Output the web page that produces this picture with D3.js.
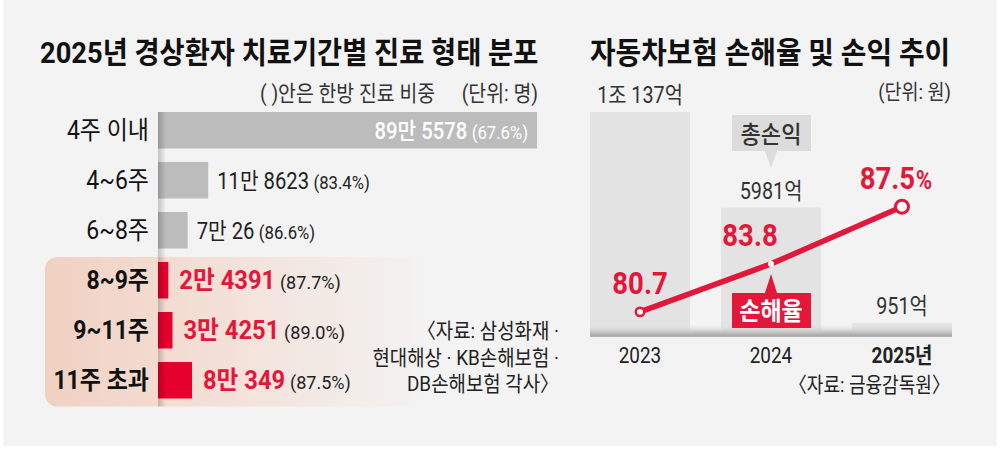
<!DOCTYPE html>
<html>
<head>
<meta charset="utf-8">
<script src="https://cdn.jsdelivr.net/npm/d3@7"></script>
<style>
  body { margin: 0; background: #fff; }
  svg { display: block; }
  text { font-family: Roboto, "Noto Sans CJK KR", sans-serif; }
</style>
</head>
<body>
<svg width="1000" height="450"></svg>
<script>
// left chart: patients by treatment period (명), ( ) = share of herbal treatment
const periods = ["4주 이내", "4~6주", "6~8주", "8~9주", "9~11주", "11주 초과"];
const patients = [895578, 118623, 70026, 24391, 34251, 80349];
const herbalShare = [67.6, 83.4, 86.6, 87.7, 89.0, 87.5];
const highlighted = ["8~9주", "9~11주", "11주 초과"];
const leftSource = ["〈자료: 삼성화재 ·", "현대해상 · KB손해보험 ·", "DB손해보험 각사〉"];

// right chart: car insurance loss ratio and total profit
const years = ["2023", "2024", "2025"];
const yearLabels = ["2023", "2024", "2025년"];
const totalProfit = [10137, 5981, 951];   // 억원
const lossRatio = [80.7, 83.8, 87.5];     // %

const RED = "#e3173a";
const svg = d3.select("svg");
const defs = svg.append("defs");

svg.append("rect").attr("x", 3).attr("y", 0).attr("width", 994).attr("height", 446).attr("fill", "#f3f3f3");

// text helper, condensed horizontally like the original typeface
function label(g, x, y, str, o = {}) {
  return g.append("text")
    .attr("transform", `translate(${x},${y}) scale(${o.sx ?? 0.9},1)`)
    .attr("text-anchor", o.anchor || "start")
    .attr("font-size", o.size || 20)
    .attr("font-weight", o.weight || 400)
    .attr("fill", o.fill || "#222")
    .text(str);
}
// squeeze a text to a given width
function fit(t, x, y, w) {
  const len = t.node().getComputedTextLength();
  t.attr("transform", `translate(${x},${y}) scale(${w / len},1)`);
}

const fmtMan = v => Math.floor(v / 10000) > 0 ? `${Math.floor(v / 10000)}만 ${v % 10000}` : `${v}`;
const fmtEok = v => v >= 10000 ? `${Math.floor(v / 10000)}조 ${v % 10000}억` : `${v}억`;

// ---------- left ----------
const L = svg.append("g");
fit(label(L, 0, 0, "2025년 경상환자 치료기간별 진료 형태 분포", { size: 30, weight: 700, fill: "#111" }), 40, 63, 498);
label(L, 435, 101, "(  )안은 한방 진료 비중", { size: 22, anchor: "end", fill: "#333", sx: 0.88 });
label(L, 538, 101, "(단위: 명)", { size: 22, anchor: "end", fill: "#333", sx: 0.88 });

const x = d3.scaleLinear().domain([0, d3.max(patients)]).range([158, 537]);
const y = d3.scaleBand().domain(periods).range([105.25, 405.25]).paddingInner(0.27).paddingOuter(0.135);

// highlight box
const hl = defs.append("linearGradient").attr("id", "hl");
hl.append("stop").attr("offset", "0").attr("stop-color", "#f0d1c2");
hl.append("stop").attr("offset", "0.3").attr("stop-color", "#f3dbd0");
hl.append("stop").attr("offset", "1").attr("stop-color", "#f3f3f3");
const hTop = y(highlighted[0]) - 5, hBot = y(highlighted[highlighted.length - 1]) + y.bandwidth() + 8;
L.append("rect").attr("x", 45).attr("y", hTop).attr("width", 385).attr("height", hBot - hTop)
  .attr("rx", 12).attr("fill", "url(#hl)");

const rows = periods.map((p, i) => ({ p, v: patients[i], s: herbalShare[i], hi: highlighted.includes(p), i }));

L.selectAll(".bar").data(rows).join("rect")
  .attr("x", x(0)).attr("y", d => y(d.p))
  .attr("width", d => x(d.v) - x(0)).attr("height", y.bandwidth())
  .attr("fill", d => d.hi ? "#e6002d" : "#bcbcbc");

// shadow strip along the axis
const sh = defs.append("linearGradient").attr("id", "sh");
sh.append("stop").attr("offset", "0").attr("stop-color", "#000").attr("stop-opacity", 0.2);
sh.append("stop").attr("offset", "1").attr("stop-color", "#000").attr("stop-opacity", 0);
L.append("rect").attr("x", x(0)).attr("y", y(periods[0])).attr("width", 8)
  .attr("height", hBot - y(periods[0])).attr("fill", "url(#sh)");

rows.forEach(d => {
  const cy = y(d.p) + y.bandwidth() / 2;
  label(L, 149, cy + 8.5, d.p, { size: 25, anchor: "end", weight: d.hi ? 700 : 400, fill: "#111", sx: 0.92 });
  const inside = d.i === 0;
  const sx = d.hi ? 0.95 : 0.88;
  const t = inside
    ? L.append("text").attr("transform", `translate(${x(d.v) - 9},${cy + 8.5}) scale(${sx},1)`).attr("text-anchor", "end")
    : L.append("text").attr("transform", `translate(${x(d.v) + (d.hi ? 11 : 9)},${cy + 8.5}) scale(${sx},1)`);
  t.append("tspan").text(fmtMan(d.v))
    .attr("font-size", d.hi ? 25 : 23).attr("font-weight", d.hi ? 700 : (inside ? 500 : 400))
    .attr("fill", inside ? "#fff" : d.hi ? RED : "#222");
  t.append("tspan").attr("dx", 5).text(`(${d.s.toFixed(1)}%)`)
    .attr("font-size", 19).attr("fill", inside ? "#fff" : "#222");
});

leftSource.forEach((s, i) => label(L, 559, 338 + i * 26.5, s, { size: 21, anchor: "end", fill: "#222" }));

// ---------- right ----------
const R = svg.append("g");
fit(label(R, 0, 0, "자동차보험 손해율 및 손익 추이", { size: 30, weight: 700, fill: "#111" }), 590, 63, 360);
label(R, 951, 99, "(단위: 원)", { size: 21, anchor: "end", fill: "#333", sx: 0.88 });

const xr = d3.scalePoint().domain(years).range([640, 902]);
const yb = d3.scaleLinear().domain([0, d3.max(totalProfit)]).range([345, 112]);
const yl = d3.scaleLinear().domain([75, 90]).range([400, 168]);
const base = 337, bw = 100;

const cols = years.map((yr, i) => ({ yr, p: totalProfit[i], r: lossRatio[i], lab: yearLabels[i], i }));

R.selectAll(".col").data(cols).join("rect")
  .attr("x", d => xr(d.yr) - bw / 2).attr("y", d => yb(d.p))
  .attr("width", bw).attr("height", d => base - yb(d.p))
  .attr("fill", "#e3e3e3");

const fl = defs.append("linearGradient").attr("id", "fl").attr("x1", 0).attr("y1", 0).attr("x2", 0).attr("y2", 1);
fl.append("stop").attr("offset", "0").attr("stop-color", "#e2e2e2").attr("stop-opacity", 0);
fl.append("stop").attr("offset", "0.55").attr("stop-color", "#c8c8c8");
fl.append("stop").attr("offset", "0.9").attr("stop-color", "#a8a8a8");
fl.append("stop").attr("offset", "1").attr("stop-color", "#b8b8b8");
R.append("rect").attr("x", xr(years[0]) - bw / 2).attr("y", base - 12)
  .attr("width", xr(years[2]) - xr(years[0]) + bw).attr("height", 12).attr("fill", "url(#fl)");

cols.forEach(d => {
  label(R, xr(d.yr), yb(d.p) - 9, fmtEok(d.p), { size: 23, anchor: "middle", fill: "#333", sx: 0.86 });
  label(R, xr(d.yr), 363, d.lab, { size: 22, anchor: "middle", weight: d.i === 2 ? 700 : 400, fill: "#222", sx: 0.86 });
});

// callouts
const cx = xr("2024");
R.append("rect").attr("x", cx - 39).attr("y", 115).attr("width", 79).attr("height", 36).attr("fill", "#dcdcdc");
R.append("path").attr("d", `M${cx - 6},151L${cx + 6},151L${cx},168Z`).attr("fill", "#dcdcdc");
label(R, cx, 143, "총손익", { size: 24, anchor: "middle", weight: 500, fill: "#333", sx: 0.92 });

R.append("rect").attr("x", cx - 39).attr("y", 293).attr("width", 79).attr("height", 35).attr("fill", RED);
R.append("path").attr("d", `M${cx - 6},293L${cx + 6},293L${cx},274Z`).attr("fill", RED);
label(R, cx, 320, "손해율", { size: 25, anchor: "middle", weight: 700, fill: "#fff", sx: 0.92 });

// loss ratio line
R.append("path").datum(cols)
  .attr("d", d3.line().x(d => xr(d.yr)).y(d => yl(d.r)))
  .attr("fill", "none").attr("stroke", RED).attr("stroke-width", 5.5).attr("stroke-linecap", "round");

const mk = [{ r: 4.2, sw: 2.5 }, { r: 3, sw: 0 }, { r: 6.5, sw: 3 }];
R.selectAll(".pt").data(cols).join("circle")
  .attr("cx", d => xr(d.yr)).attr("cy", d => yl(d.r))
  .attr("r", d => mk[d.i].r).attr("fill", "#fff")
  .attr("stroke", RED).attr("stroke-width", d => mk[d.i].sw);

const dxLab = [0, -21, -6];
cols.forEach(d => {
  const t = R.append("text")
    .attr("transform", `translate(${xr(d.yr) + dxLab[d.i]},${yl(d.r) - 18}) scale(0.86,1)`)
    .attr("text-anchor", "middle").attr("fill", RED).attr("font-weight", 700);
  t.append("tspan").attr("font-size", 32).text(d.r.toFixed(1));
  if (d.i === 2) t.append("tspan").attr("font-size", 26).attr("dx", 1).text("%");
});

label(R, 950, 392, "〈자료: 금융감독원〉", { size: 21, anchor: "end", fill: "#222", sx: 0.86 });
</script>
</body>
</html>
